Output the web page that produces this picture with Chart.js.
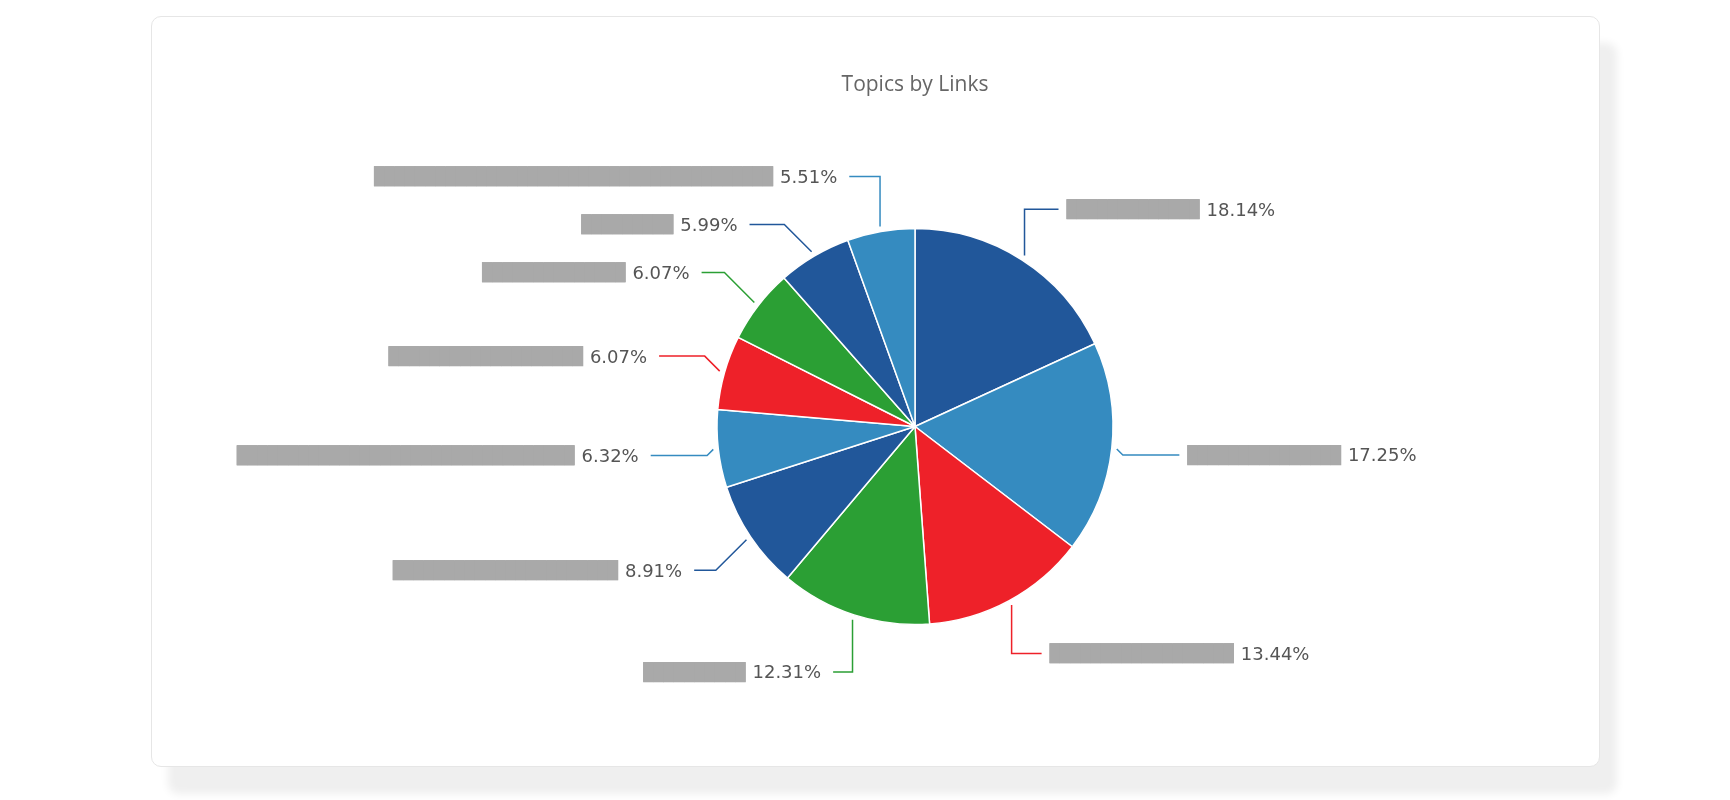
<!DOCTYPE html>
<html>
<head>
<meta charset="utf-8">
<script src="https://cdn.jsdelivr.net/npm/chart.js@4.4.1/dist/chart.umd.min.js"></script>
<style>
  html, body { margin: 0; padding: 0; background: #ffffff; width: 1730px; height: 800px; overflow: hidden; }
  #card { position: absolute; left: 151px; top: 16px; width: 1447px; height: 749px; background: #ffffff;
          border: 1px solid #e6e6e6; border-radius: 10px; box-shadow: 17px 27px 8px #efefef; }
  #wrap { position: absolute; left: 0; top: 0; width: 1730px; height: 800px; }
</style>
</head>
<body>
<div id="card"></div>
<div id="wrap"><canvas id="chart" width="1730" height="800"></canvas></div>
<script>
// ---- data (topic names are redacted in the reference, shown as blocks) ----
const chartTitle = 'Topics by Links';
const categories = [
  '█████████████',
  '███████████████',
  '██████████████████',
  '██████████',
  '██████████████████████',
  '█████████████████████████████████',
  '███████████████████',
  '██████████████',
  '█████████',
  '███████████████████████████████████████'
];
const sharePercent = [18.14, 17.25, 13.44, 12.31, 8.91, 6.32, 6.07, 6.07, 5.99, 5.51];
const sliceColors = ['#21579a', '#358bc0', '#ee2129', '#2b9f34', '#21579a', '#358bc0', '#ee2129', '#2b9f34', '#21579a', '#358bc0'];

// ---- label / leader-line plugin (positions derived from the arc geometry) ----
const leaderLabels = {
  id: 'leaderLabels',
  afterDatasetsDraw(chart) {
    const ctx = chart.ctx;
    const meta = chart.getDatasetMeta(0);
    const pctSize = 18;
    const pctFont = pctSize + 'px "DejaVu Sans"';
    const nameFont = '17px "DejaVu Sans Mono"';
    const items = meta.data.map((arc, i) => {
      const p = arc.getProps(['x', 'y', 'startAngle', 'endAngle', 'outerRadius'], true);
      const mid = (p.startAngle + p.endAngle) / 2;
      const R = p.outerRadius;
      const Ry = R + 60, Rx = R + 68;
      return {
        i, mid, cx: p.x, cy: p.y, R, Rx, Ry,
        right: Math.cos(mid) >= 0,
        y: p.y + Ry * Math.sin(mid)
      };
    });
    const gap = 48;
    [true, false].forEach(side => {
      const list = items.filter(it => it.right === side).sort((a, b) => a.y - b.y);
      if (!list.length) return;
      const cy = list[0].cy, lim = list[0].Ry - 8;
      list.forEach(it => { it.y = Math.min(Math.max(it.y, cy - lim), cy + lim); });
      for (let k = 1; k < list.length; k++) list[k].y = Math.max(list[k].y, list[k - 1].y + gap);
      for (let k = list.length - 2; k >= 0; k--) {
        if (list[k + 1].y > cy + lim) list[k + 1].y = cy + lim;
        list[k].y = Math.min(list[k].y, list[k + 1].y - gap);
      }
    });
    ctx.save();
    items.forEach(it => {
      const dyc = it.y - it.cy;
      const f = Math.sqrt(Math.max(0, 1 - (dyc / it.Ry) * (dyc / it.Ry)));
      const ax = it.cx + (it.right ? 1 : -1) * it.Rx * f;
      const ay = it.y;
      const tx = it.cx + (it.R + 5) * Math.cos(it.mid);
      const ty = it.cy + (it.R + 5) * Math.sin(it.mid);
      const dx = ax - tx, dy = ay - ty;
      let ex, ey = ay;
      if (Math.abs(dy) <= Math.abs(dx)) ex = tx + Math.sign(dx) * Math.abs(dy);
      else ex = tx;
      ctx.beginPath();
      ctx.moveTo(tx, ty);
      ctx.lineTo(ex, ey);
      ctx.lineTo(ax, ay);
      ctx.strokeStyle = sliceColors[it.i];
      ctx.lineWidth = 1.5;
      ctx.lineJoin = 'miter';
      ctx.stroke();

      const pct = sharePercent[it.i].toFixed(2) + '%';
      ctx.font = pctFont;
      const pw = ctx.measureText(pct).width;
      ctx.font = nameFont;
      const nw = ctx.measureText(categories[it.i]).width;
      let barX, pctX;
      if (it.right) {
        barX = ax + 8;
        pctX = barX + nw + 7;
      } else {
        pctX = ax - 12 - pw;
        barX = pctX - 7 - nw;
      }
      // redacted topic name
      ctx.fillStyle = '#a9a9a9';
      ctx.fillRect(barX, ay - 9.8, nw, 19.6);
      ctx.textAlign = 'left';
      ctx.textBaseline = 'alphabetic';
      ctx.fillText(categories[it.i], barX, ay + 17 * 0.346);
      // percentage
      ctx.font = pctFont;
      ctx.fillStyle = '#555555';
      ctx.fillText(pct, pctX, ay + pctSize * 0.36);
    });
    ctx.restore();
  }
};

new Chart(document.getElementById('chart'), {
  type: 'pie',
  data: {
    labels: categories,
    datasets: [{
      data: sharePercent,
      backgroundColor: sliceColors,
      borderColor: '#ffffff',
      borderWidth: 1.5,
      hoverOffset: 0,
      offset: 0
    }]
  },
  options: {
    responsive: false,
    devicePixelRatio: 1,
    animation: false,
    layout: { padding: { left: 615, right: 515, top: 0, bottom: 174.75 } },
    plugins: {
      legend: { display: false },
      tooltip: { enabled: false },
      title: {
        display: true,
        text: chartTitle,
        color: '#666666',
        font: { family: '"Open Sans"', size: 21, weight: 'normal' },
        padding: { top: 72.4, bottom: 130.15 }
      }
    }
  },
  plugins: [leaderLabels]
});
</script>
</body>
</html>
